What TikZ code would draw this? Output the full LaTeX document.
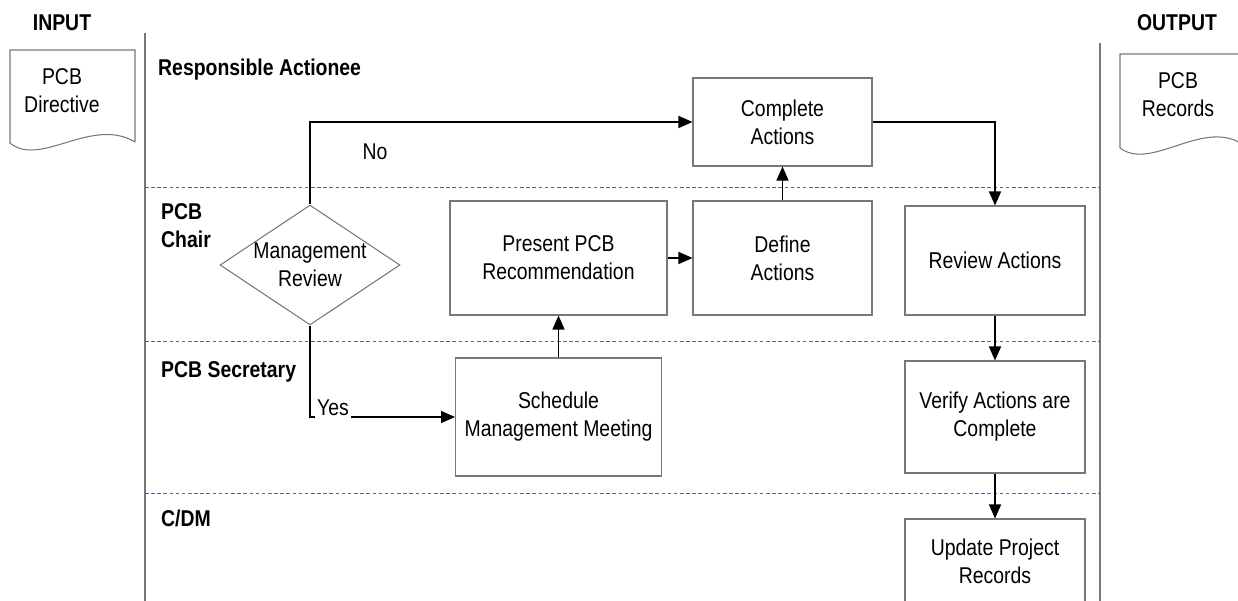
\documentclass[tikz,border=0pt]{standalone}
\usepackage{fontspec}
\setmainfont{Liberation Sans}[FakeStretch=0.85]
\usetikzlibrary{arrows.meta,shapes.geometric}

\definecolor{lanecol}{RGB}{95,95,150}
\definecolor{boxcol}{RGB}{120,120,120}

\begin{document}
\begin{tikzpicture}[
        x=0.02cm, y=-0.02cm,
        txt/.style={font=\fontsize{13}{16}\selectfont, align=center},
        head/.style={font=\fontsize{13}{16}\selectfont\bfseries, align=left},
        task/.style={txt, draw=boxcol, line width=0.6pt, inner sep=0pt},
        flow/.style={draw, line width=0.8pt, -{Triangle[length=0.28cm, width=0.24cm]}},
        lane/.style={lanecol, line width=0.5pt, dash pattern=on 2pt off 1.5pt},
        swim/.style={boxcol, line width=0.6pt}
    ]
        \clip (0, 0) rectangle (1238, 601);

        % input and output documents
        \node[head] (input) at (62, 23) {INPUT};
        \node[head] (output) at (1177, 23) {OUTPUT};
        \draw[swim] (135, 142) -- (135, 50) -- (10, 50) -- (10, 143)
            .. controls (40, 168) and (92, 116) .. (135, 142);
        \node[txt] (directive) at (62, 91) {PCB\\Directive};
        \draw[swim] (1245, 146) -- (1245, 54) -- (1120, 54) -- (1120, 148)
            .. controls (1152, 172) and (1205, 116) .. (1245, 146);
        \node[txt] (records) at (1178, 95) {PCB\\Records};

        % swim lanes
        \draw[swim] (145, 33) -- (145, 601);
        \draw[swim] (1100, 43) -- (1100, 601);
        \draw[lane] (145, 187) -- (1100, 187);
        \draw[lane] (145, 341) -- (1100, 341);
        \draw[lane] (145, 493) -- (1100, 493);
        \node[head, anchor=west] (actionee) at (152, 70) {Responsible Actionee};
        \node[head, anchor=west] (chair) at (155, 226) {PCB\\Chair};
        \node[head, anchor=west] (secretary) at (155, 372) {PCB Secretary};
        \node[head, anchor=west] (cdm) at (155, 518) {C/DM};

        % tasks
        \node[draw=boxcol, line width=0.6pt, shape=diamond, inner sep=0pt,
              minimum width=3.6cm, minimum height=2.4cm] (mgmt) at (310, 265) {};
        \node[txt] (mgmttext) at (mgmt) {Management\\Review};
        \node[task, minimum width=3.58cm, minimum height=1.76cm] (complete) at (782.5, 122) {Complete\\Actions};
        \node[task, minimum width=4.34cm, minimum height=2.28cm] (present) at (558.5, 258) {Present PCB\\Recommendation};
        \node[task, minimum width=3.58cm, minimum height=2.28cm] (define) at (782.5, 258) {Define\\Actions};
        \node[task, minimum width=3.6cm, minimum height=2.18cm] (reviewact) at (995, 260.5) {Review Actions};
        \node[task, minimum width=4.12cm, minimum height=2.36cm] (schedule) at (558.5, 417) {Schedule\\Management Meeting};
        \node[task, minimum width=3.6cm, minimum height=2.24cm] (verify) at (995, 417) {Verify Actions are\\Complete};
        \node[task, minimum width=3.6cm, minimum height=1.68cm] (update) at (995, 561) {Update Project\\Records};

        % connectors
        \draw[flow] (mgmt.north) |- (complete.west);
        \node[txt] (no) at (375, 152) {No};
        \draw[flow] (mgmt.south) |- (schedule.west);
        \node[txt, fill=white, inner sep=1pt] (yes) at (333, 408) {Yes};
        \draw[flow] (schedule) -- (present);
        \draw[flow] (present) -- (define);
        \draw[flow] (define) -- (complete);
        \draw[flow] (complete.east) -| (reviewact.north);
        \draw[flow] (reviewact) -- (verify);
        \draw[flow] (verify) -- (update);
    \end{tikzpicture}
\end{document}
